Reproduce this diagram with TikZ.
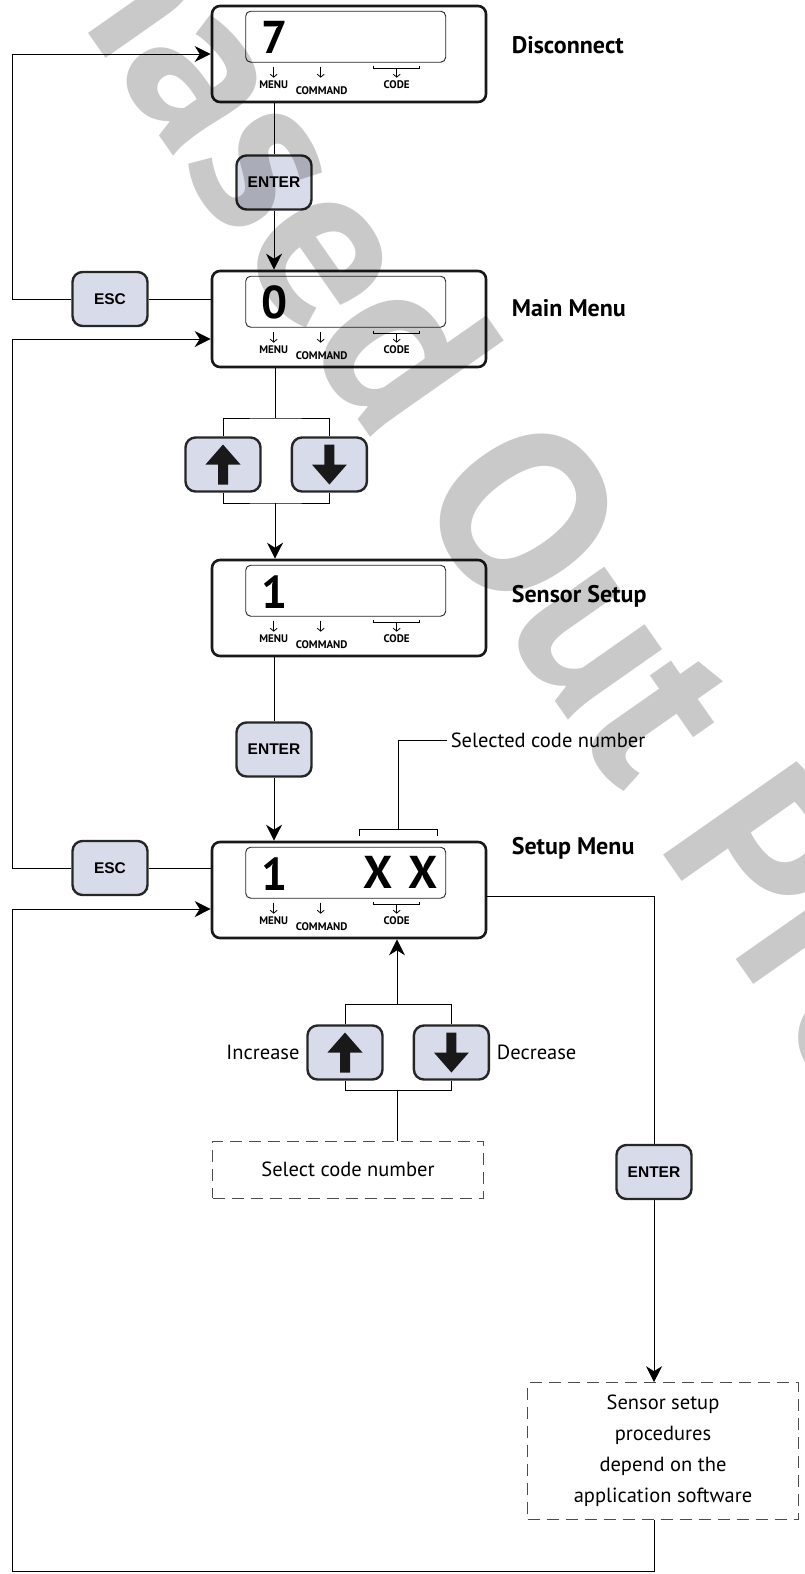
\documentclass[tikz,border=0pt]{standalone}
\usepackage{fontspec}
\setmainfont{PT Sans}
\newfontfamily\keyfont{Liberation Sans}
\usepackage{tikz}
\usetikzlibrary{arrows.meta,positioning}
\definecolor{keyblue}{RGB}{216,220,234}
\newcommand{\labfont}{\fontsize{24}{28}\selectfont\bfseries}
\newcommand{\notefont}{\fontsize{20.5}{31}\selectfont}
\newcommand{\digitfont}{\fontsize{46}{50}\selectfont\bfseries}
\newcommand{\tagfont}{\fontsize{11}{12}\selectfont\bfseries}
\tikzstyle{panel}=[rectangle,rounded corners=8pt,line width=2.6pt,draw=black!90,
fill=white,minimum width=274pt,minimum height=96pt,inner sep=0pt]
\tikzstyle{key}=[rectangle,rounded corners=10pt,line width=2.4pt,draw=black!85,
fill=keyblue,minimum width=75pt,minimum height=54pt,inner sep=0pt,
font={\keyfont\bfseries\fontsize{15.5}{18}\selectfont}]
\tikzstyle{window}=[rectangle,rounded corners=5pt,line width=0.9pt,draw=black!85,
minimum width=200pt,minimum height=51pt,inner sep=0pt]
\tikzstyle{digit}=[inner sep=0pt,font=\digitfont]
\tikzstyle{tag}=[inner sep=0pt,font=\tagfont]
\tikzstyle{tick}=[line width=0.8pt,-{Straight Barb[length=3pt,width=7pt]}]

% display window, key tags and code bracket of one panel
\newcommand{\panelbits}[2]{%
	\begin{scope}[shift={(#1.north west)}]
		\node[window] (#1-win) at (135,32) {};
		\node[digit,anchor=west] (#1-num) at (50,33) {#2};
		\draw[tick] (63,62) -- (63,73);
		\node[tag] (#1-menu) at (63,80) {MENU};
		\draw[tick] (110,62) -- (110,73);
		\node[tag] (#1-cmd) at (111,86) {COMMAND};
		\draw[line width=0.8pt] (163,61) -- (163,64) -- (209,64) -- (209,61);
		\draw[tick] (186,64) -- (186,73);
		\node[tag] (#1-code) at (186,80) {CODE};
	\end{scope}}
% block arrow on an up/down key
\newcommand{\keyarrow}[2]{%
	\fill[black!90,shift={(#1.center)},rotate=#2] (-5,20) -- (-5,0) -- (-17.5,0)
		-- (0,-20) -- (17.5,0) -- (5,0) -- (5,20) -- cycle;}

\begin{document}
\begin{tikzpicture}[x=1pt,y=-1pt,>={Stealth[length=16pt,width=16pt,inset=5pt]},line width=1pt]
	\tikzstyle{lab}=[anchor=west,inner sep=0pt,font=\labfont]
	\tikzstyle{dashbox}=[rectangle,draw=black!70,line width=0.9pt,dash pattern=on 12pt off 7pt,
		minimum width=271pt,align=center,font=\notefont]
	\tikzstyle{watermark}=[inner sep=0pt,rotate=-55,text=black,text opacity=0.21,
		font={\fontsize{235}{235}\selectfont\bfseries}]

	\useasboundingbox (0,0) rectangle (805,1574);

		\coordinate (lft) at (12,0);
		\coordinate (bot) at (12,1571);

		% panels
		\node[panel] (p1) at (349,54) {};
		\panelbits{p1}{7}
		\node[lab, right=24pt of p1, yshift=9pt] (lab1) {Disconnect};
		\node[panel] (p2) at (349,319) {};
		\panelbits{p2}{0}
		\node[lab, right=24pt of p2, yshift=11pt] (lab2) {Main Menu};
		\node[panel] (p3) at (349,608) {};
		\panelbits{p3}{1}
		\node[lab, right=24pt of p3, yshift=12pt] (lab3) {Sensor Setup};
		\node[panel] (p4) at (349,890) {};
		\panelbits{p4}{1}
		\node[digit,anchor=east] (p4-xx) at ([xshift=-8pt]p4-win.east) {X\hspace{16pt}X};
		\node[lab, right=24pt of p4, yshift=42pt] (lab4) {Setup Menu};

		% keys
		\node[key, below=51pt of p1, xshift=-75pt] (enter1) {ENTER};
		\node[key, left=62pt of p2, yshift=20pt] (esc1) {ESC};
		\node[key, below=68pt of p2, xshift=-126pt] (up1) {};
		\node[key, right=29pt of up1] (down1) {};
		\keyarrow{up1}{0}
		\keyarrow{down1}{180}
		\node[key, below=64pt of p3, xshift=-75pt] (enter2) {ENTER};
		\node[key, left=62pt of p4, yshift=22pt] (esc2) {ESC};
		\node[key, below=85pt of p4, xshift=-4pt] (up2) {};
		\node[key, right=29pt of up2] (down2) {};
		\keyarrow{up2}{0}
		\keyarrow{down2}{180}
		\node[left=3pt of up2, font=\notefont] (inc) {Increase};
		\node[right=3pt of down2, font=\notefont] (dec) {Decrease};
		\node[key] (enter3) at (654,1172) {ENTER};

		% notes
		\node[dashbox, minimum height=57pt, below=60pt of up2, xshift=3pt] (sel) {Select code number};
		\node[dashbox, minimum height=137pt, below=182pt of enter3, xshift=9pt] (proc)
			{Sensor setup\\procedures\\depend on the\\application software};
		\node[anchor=west, font=\notefont] (seltxt) at (447,740) {Selected code number};
		\coordinate (xbr) at (398,829);
		\draw[line width=0.8pt] (359,836) -- (359,829) -- (437,829) -- (437,836);

		\coordinate (t1) at (275,418);
		\coordinate (b1) at (275,503);
		\coordinate (t2) at (397,1004);
		\coordinate (b2) at (397,1090);

		% connectors
		\draw (enter1 |- p1.south) -- (enter1.north);
		\draw[->] (enter1.south) -- (enter1 |- p2.north);
		\draw (esc1.east) -- (esc1 -| p2.west);
		\draw[->] (esc1.west) -- (esc1 -| lft) |- (p1.west);
		\draw[->] (esc2.west) -- (esc2 -| lft) |- ([yshift=-20pt]p2.west);
		\draw (esc2.east) -- (esc2 -| p4.west);
		\draw (t1 |- p2.south) -- (t1);
		\draw (up1.north) |- (t1) -| (down1.north);
		\draw (up1.south) |- (b1) -| (down1.south);
		\draw[->] (b1) -- (b1 |- p3.north);
		\draw (enter2 |- p3.south) -- (enter2.north);
		\draw[->] (enter2.south) -- (enter2 |- p4.north);
		\draw[->] (t2) -- (t2 |- p4.south);
		\draw (up2.north) |- (t2) -| (down2.north);
		\draw (up2.south) |- (b2) -| (down2.south);
		\draw (b2) -- (b2 |- sel.north);
		\draw (xbr) |- (seltxt.west);
		\draw ([yshift=-6pt]p4.east) -| (enter3.north);
		\draw[->] (enter3.south) -- (enter3 |- proc.north);
		\draw[->] (enter3 |- proc.south) -- (enter3 |- bot) -- (bot) |- ([yshift=-19pt]p4.west);

		\begin{scope}
			\clip (0,0) rectangle (805,1574);
			\node[watermark] (wm) at (598,618) {Phased Out Product};
		\end{scope}
\end{tikzpicture}
\end{document}
